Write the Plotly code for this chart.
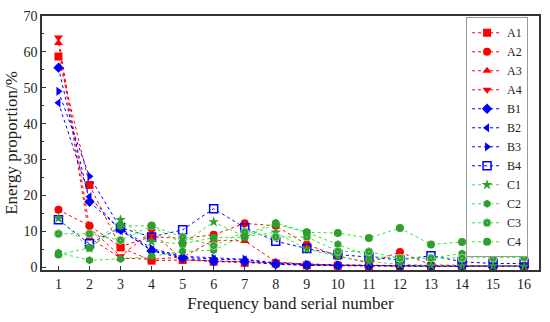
import plotly.graph_objects as go

bands = list(range(1, 17))
names = ["A1", "A2", "A3", "A4", "B1", "B2", "B3", "B4", "C1", "C2", "C3", "C4"]

A1 = [58.7, 22.9, 5.5, 1.8, 2.0, 1.5, 1.2, 1.0, 0.5, 0.4, 0.3, 0.3, 0.2, 0.2, 0.2, 0.2]
A2 = [16.0, 11.5, 5.7, 8.5, 8.0, 9.0, 12.2, 11.5, 6.3, 3.1, 1.2, 4.2, 0.6, 0.5, 0.3, 0.3]
A3 = [62.5, 8.2, 2.5, 2.2, 2.8, 7.5, 7.3, 1.5, 0.8, 0.5, 0.4, 0.3, 0.3, 0.2, 0.2, 0.2]
A4 = [64.0, 11.0, 3.0, 10.0, 2.0, 1.8, 1.5, 1.2, 0.6, 0.5, 0.4, 0.3, 0.3, 0.2, 0.2, 0.2]
B1 = [55.6, 18.2, 10.5, 4.5, 2.5, 1.6, 1.5, 0.8, 0.5, 0.4, 0.4, 0.3, 0.3, 0.2, 0.2, 0.2]
B2 = [45.8, 19.6, 10.2, 4.8, 2.8, 2.2, 2.0, 1.0, 0.6, 0.5, 0.4, 0.4, 0.3, 0.3, 0.3, 0.3]
B3 = [49.0, 25.3, 10.8, 5.2, 3.0, 2.5, 2.2, 1.2, 0.8, 0.6, 0.5, 0.4, 0.4, 0.3, 0.3, 0.3]
B4 = [13.2, 6.5, 11.0, 8.4, 10.4, 16.3, 11.0, 7.2, 5.2, 3.5, 2.8, 2.0, 3.2, 1.5, 1.0, 1.0]
C1 = [13.6, 5.2, 13.2, 7.1, 6.5, 12.6, 8.5, 9.7, 5.0, 3.0, 1.5, 0.8, 0.5, 0.3, 0.3, 0.2]
C2 = [4.0, 1.9, 2.3, 3.0, 4.4, 4.7, 9.0, 12.4, 9.7, 6.4, 3.0, 2.5, 2.5, 3.8, 5.8, 6.3]
C3 = [9.3, 9.3, 7.5, 11.5, 8.4, 6.0, 9.8, 8.4, 8.4, 4.4, 4.3, 2.5, 2.5, 2.5, 2.5, 2.7]
C4 = [3.5, 5.4, 11.5, 11.5, 6.5, 8.2, 8.4, 12.0, 9.7, 9.5, 8.1, 10.9, 6.3, 7.0, 7.2, 6.7]

series = [A1, A2, A3, A4, B1, B2, B3, B4, C1, C2, C3, C4]

RED, BLUE, GREEN_M, GREEN_L = "#FF0000", "#0000FF", "#2E9E2E", "#33E633"
styles = [
    ("square", RED, RED),
    ("circle", RED, RED),
    ("triangle-up", RED, RED),
    ("triangle-down", RED, RED),
    ("diamond", BLUE, BLUE),
    ("triangle-left", BLUE, BLUE),
    ("triangle-right", BLUE, BLUE),
    ("square-open", BLUE, BLUE),
    ("star", GREEN_M, GREEN_L),
    ("hexagon", GREEN_M, GREEN_L),
    ("circle-dot", GREEN_M, GREEN_L),
    ("circle", GREEN_M, GREEN_L),
]

FONT = "Liberation Serif, Times New Roman, serif"

fig = go.Figure()
for name, vals, (sym, mcol, lcol) in zip(names, series, styles):
    mline = dict(width=0, color=mcol)
    if sym == "square-open":
        mline = dict(width=1.5, color=mcol)
    if sym == "circle-dot":
        mline = dict(width=1, color="#8FD88F")
    fig.add_trace(go.Scatter(
        x=bands, y=vals, name=name, mode="lines+markers",
        line=dict(color=lcol, width=1, dash="dot"),
        marker=dict(symbol=sym, size=8, color=mcol, line=mline),
    ))

axis_common = dict(
    showline=True, linecolor="#333333", linewidth=1.5, mirror=True,
    ticks="inside", ticklen=4, tickcolor="#333333", showgrid=False, zeroline=False,
    tickfont=dict(family=FONT, size=14, color="#222222"),
)

fig.update_layout(
    width=550, height=322,
    margin=dict(l=42, r=9, t=11, b=52),
    plot_bgcolor="white", paper_bgcolor="white",
    font=dict(family=FONT, size=13, color="#222222"),
    xaxis=dict(range=[0.47, 16.48], tickmode="array", tickvals=bands,
               title=dict(text="Frequency band serial number", font=dict(family=FONT, size=17), standoff=7),
               **axis_common),
    yaxis=dict(range=[-0.8, 70], tickmode="linear", tick0=0, dtick=10,
               minor=dict(ticks="inside", ticklen=2, dtick=5, tickcolor="#333333"),
               title=dict(text="Energy proportion/%", font=dict(family=FONT, size=17), standoff=2),
               **axis_common),
    legend=dict(x=0.978, xanchor="right", y=0.995, yanchor="top",
                bgcolor="white", bordercolor="#999999", borderwidth=1, maxheight=320,
                font=dict(family=FONT, size=12), itemwidth=30, tracegroupgap=0),
    showlegend=True,
)

fig.write_html("out.html", config={"displayModeBar": False},
               post_script="document.body.style.margin='0';document.body.style.overflow='hidden';")
